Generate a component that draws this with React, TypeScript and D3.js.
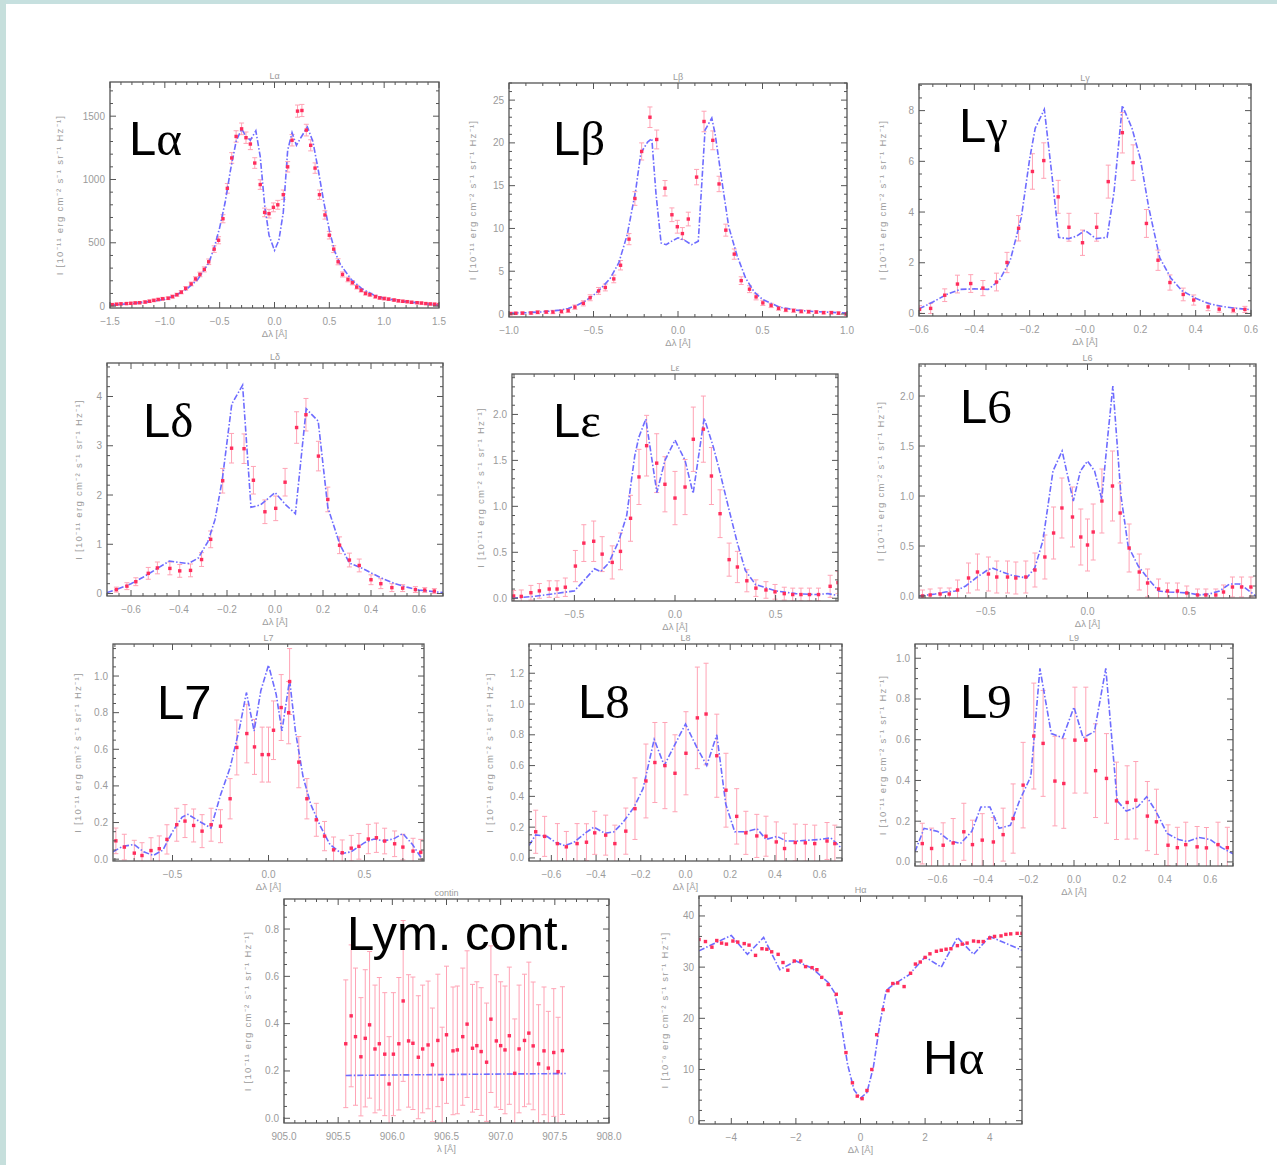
import React from 'react'
import * as d3 from 'd3'

type Obs = [number, number, number][]
type Fit = [number, number][]

// --- observed profiles [Δλ, I, err] and model curves [Δλ, I] ---
const lyaObs: Obs = [[-1.48,12,8],[-1.44,15,8],[-1.40,18,8],[-1.35,20,8],[-1.31,22,8],[-1.27,25,9],[-1.23,27,9],[-1.18,32,9],[-1.14,38,10],[-1.10,45,10],[-1.06,52,10],[-1.02,58,11],[-0.97,62,11],[-0.93,75,12],[-0.89,90,12],[-0.85,110,13],[-0.81,140,14],[-0.76,175,15],[-0.72,215,17],[-0.68,250,18],[-0.64,290,20],[-0.60,350,22],[-0.55,450,26],[-0.51,520,28],[-0.47,690,32],[-0.43,930,38],[-0.39,1170,42],[-0.35,1340,45],[-0.30,1400,46],[-0.26,1330,45],[-0.22,1280,44],[-0.18,1130,42],[-0.13,960,38],[-0.09,740,34],[-0.05,730,34],[-0.01,780,35],[0.03,800,35],[0.08,880,37],[0.12,1100,41],[0.16,1310,45],[0.21,1540,48],[0.25,1545,48],[0.29,1390,46],[0.33,1270,44],[0.37,1090,41],[0.41,880,37],[0.46,720,33],[0.50,560,30],[0.54,450,27],[0.58,350,24],[0.62,250,20],[0.67,210,18],[0.71,185,17],[0.75,150,15],[0.79,125,14],[0.83,100,13],[0.87,90,12],[0.92,75,12],[0.96,65,11],[1.00,60,11],[1.04,55,10],[1.09,48,10],[1.13,42,10],[1.17,38,9],[1.21,35,9],[1.25,30,9],[1.30,27,9],[1.34,24,8],[1.38,20,8],[1.42,17,8],[1.46,15,8],[1.50,12,8]]
const lyaFit: Fit = [[-1.5,8],[-1.3,20],[-1.1,40],[-1.0,55],[-0.9,85],[-0.8,135],[-0.7,210],[-0.6,340],[-0.55,460],[-0.5,620],[-0.45,820],[-0.4,1080],[-0.35,1300],[-0.3,1400],[-0.26,1340],[-0.22,1310],[-0.17,1385],[-0.13,1180],[-0.09,800],[-0.05,560],[0,440],[0.04,520],[0.08,740],[0.12,1230],[0.16,1370],[0.2,1270],[0.24,1330],[0.3,1415],[0.35,1300],[0.4,1070],[0.45,820],[0.5,600],[0.55,430],[0.6,330],[0.7,210],[0.8,135],[0.9,90],[1.0,60],[1.2,35],[1.5,8]]

const lybObs: Obs = [[-0.99,0.05,0.15],[-0.96,0.08,0.15],[-0.92,0.1,0.15],[-0.87,0.12,0.15],[-0.83,0.2,0.18],[-0.78,0.23,0.18],[-0.74,0.23,0.2],[-0.69,0.3,0.2],[-0.65,0.4,0.22],[-0.61,0.8,0.25],[-0.56,1.25,0.3],[-0.52,1.9,0.35],[-0.47,2.7,0.4],[-0.43,3.1,0.4],[-0.38,4.1,0.45],[-0.34,5.7,0.55],[-0.29,8.75,0.65],[-0.255,13.5,0.8],[-0.215,19.0,1.0],[-0.166,23.0,1.2],[-0.126,20.4,1.1],[-0.077,14.7,0.9],[-0.036,11.6,0.8],[-0.004,10.2,0.75],[0.026,9.4,0.7],[0.061,11.1,0.8],[0.11,16.0,0.9],[0.154,22.5,1.2],[0.206,20.3,1.1],[0.243,15.2,0.9],[0.283,9.8,0.7],[0.333,7.0,0.6],[0.374,3.9,0.45],[0.423,2.9,0.4],[0.462,2.0,0.35],[0.502,1.3,0.3],[0.551,1.0,0.25],[0.595,0.66,0.22],[0.638,0.47,0.2],[0.684,0.4,0.2],[0.729,0.3,0.18],[0.773,0.27,0.18],[0.818,0.23,0.15],[0.862,0.16,0.15],[0.907,0.16,0.15],[0.95,0.1,0.15],[0.996,0.0,0.15]]
const lybFit: Fit = [[-1,0.1],[-0.9,0.15],[-0.8,0.25],[-0.7,0.45],[-0.65,0.65],[-0.6,1.0],[-0.55,1.5],[-0.5,2.2],[-0.45,3.1],[-0.4,4.2],[-0.35,6.0],[-0.3,9.3],[-0.25,14.5],[-0.22,18.8],[-0.18,20.1],[-0.155,20.5],[-0.13,14],[-0.1,8.3],[-0.07,8.1],[-0.03,8.6],[0,8.9],[0.04,8.6],[0.08,8.1],[0.12,8.5],[0.16,21.5],[0.2,22.9],[0.22,21],[0.26,15.5],[0.3,10.2],[0.35,6.8],[0.4,4.2],[0.45,2.6],[0.5,1.7],[0.6,0.8],[0.7,0.45],[0.8,0.3],[0.9,0.2],[1.0,0.1]]

const lygObs: Obs = [[-0.598,0.16,0.15],[-0.558,0.2,0.2],[-0.507,0.72,0.25],[-0.461,1.16,0.35],[-0.413,1.18,0.35],[-0.369,1.0,0.3],[-0.32,1.24,0.35],[-0.282,2.01,0.4],[-0.24,3.36,0.5],[-0.19,5.6,0.7],[-0.149,6.03,0.7],[-0.097,4.6,0.65],[-0.058,3.4,0.55],[-0.009,2.79,0.5],[0.042,3.4,0.55],[0.084,5.2,0.65],[0.135,7.13,0.8],[0.174,5.95,0.7],[0.222,3.55,0.55],[0.264,2.1,0.4],[0.307,1.22,0.3],[0.355,0.75,0.25],[0.393,0.53,0.2],[0.445,0.26,0.15],[0.485,0.17,0.12],[0.536,0.13,0.1],[0.578,0.16,0.12]]
const lygFit: Fit = [[-0.6,0.18],[-0.55,0.45],[-0.5,0.75],[-0.45,0.95],[-0.4,0.97],[-0.35,0.95],[-0.31,1.3],[-0.27,2.1],[-0.23,3.8],[-0.2,6.1],[-0.18,7.3],[-0.147,8.05],[-0.12,5.5],[-0.095,3.0],[-0.06,2.95],[-0.03,3.05],[0,3.28],[0.04,2.95],[0.08,3.0],[0.105,4.8],[0.135,8.2],[0.17,7.3],[0.2,6.1],[0.23,4.2],[0.27,2.2],[0.31,1.4],[0.35,0.9],[0.4,0.6],[0.45,0.38],[0.5,0.27],[0.55,0.2],[0.6,0.15]]

const lydObs: Obs = [[-0.661,0.08,0.05],[-0.617,0.15,0.07],[-0.58,0.24,0.08],[-0.528,0.41,0.12],[-0.49,0.52,0.12],[-0.438,0.51,0.13],[-0.397,0.46,0.13],[-0.352,0.47,0.13],[-0.306,0.69,0.14],[-0.268,1.1,0.17],[-0.218,2.29,0.25],[-0.181,2.95,0.3],[-0.129,2.94,0.3],[-0.09,2.3,0.28],[-0.042,1.66,0.24],[0.003,1.73,0.25],[0.042,2.26,0.28],[0.09,3.37,0.32],[0.129,3.63,0.33],[0.181,2.79,0.3],[0.22,1.91,0.25],[0.269,0.98,0.17],[0.31,0.68,0.14],[0.351,0.57,0.13],[0.40,0.28,0.1],[0.441,0.2,0.1],[0.487,0.12,0.08],[0.532,0.11,0.07],[0.585,0.08,0.06],[0.624,0.07,0.05],[0.664,0.05,0.05]]
const lydFit: Fit = [[-0.7,0.02],[-0.65,0.1],[-0.6,0.2],[-0.55,0.33],[-0.5,0.48],[-0.44,0.66],[-0.4,0.63],[-0.36,0.61],[-0.32,0.72],[-0.28,1.05],[-0.25,1.5],[-0.22,2.3],[-0.18,3.85],[-0.135,4.23],[-0.1,1.75],[-0.06,1.8],[0,2.05],[0.045,1.8],[0.085,1.62],[0.13,3.75],[0.18,3.5],[0.22,1.75],[0.27,1.0],[0.31,0.62],[0.36,0.52],[0.4,0.42],[0.45,0.3],[0.5,0.2],[0.55,0.13],[0.6,0.07],[0.7,0.02]]

const lyeObs: Obs = [[-0.802,0.025,0.06],[-0.764,0.02,0.07],[-0.716,0.06,0.08],[-0.674,0.08,0.08],[-0.625,0.1,0.09],[-0.586,0.1,0.09],[-0.545,0.12,0.1],[-0.495,0.35,0.17],[-0.453,0.6,0.2],[-0.404,0.62,0.22],[-0.362,0.48,0.19],[-0.312,0.39,0.18],[-0.271,0.51,0.2],[-0.221,0.87,0.25],[-0.179,1.32,0.3],[-0.141,1.66,0.33],[-0.091,1.47,0.32],[-0.05,1.24,0.3],[0,1.09,0.29],[0.05,1.21,0.3],[0.091,1.73,0.35],[0.141,1.84,0.36],[0.181,1.33,0.31],[0.224,0.92,0.26],[0.269,0.42,0.18],[0.31,0.34,0.17],[0.357,0.19,0.12],[0.402,0.11,0.09],[0.452,0.09,0.09],[0.497,0.07,0.08],[0.543,0.05,0.07],[0.585,0.04,0.07],[0.626,0.04,0.07],[0.668,0.04,0.07],[0.713,0.04,0.07],[0.771,0.13,0.12],[0.81,0.17,0.12]]
const lyeFit: Fit = [[-0.81,0.0],[-0.7,0.02],[-0.6,0.05],[-0.5,0.08],[-0.45,0.2],[-0.4,0.32],[-0.37,0.29],[-0.33,0.38],[-0.28,0.62],[-0.24,0.9],[-0.2,1.55],[-0.18,1.75],[-0.145,1.95],[-0.09,1.15],[-0.05,1.5],[0,1.72],[0.05,1.5],[0.09,1.14],[0.145,1.96],[0.19,1.65],[0.22,1.4],[0.27,0.95],[0.31,0.6],[0.35,0.3],[0.4,0.15],[0.5,0.08],[0.6,0.05],[0.7,0.04],[0.76,0.05],[0.81,0.03]]

const ly6Obs: Obs = [[-0.813,0.0,0.06],[-0.775,0.01,0.06],[-0.726,0.02,0.06],[-0.681,0.02,0.06],[-0.64,0.06,0.1],[-0.586,0.18,0.15],[-0.542,0.24,0.18],[-0.488,0.22,0.17],[-0.447,0.19,0.16],[-0.394,0.19,0.16],[-0.353,0.18,0.16],[-0.304,0.19,0.16],[-0.259,0.26,0.17],[-0.21,0.39,0.22],[-0.167,0.63,0.26],[-0.126,0.88,0.3],[-0.074,0.79,0.3],[-0.033,0.59,0.28],[0,0.51,0.26],[0.028,0.64,0.28],[0.071,0.95,0.32],[0.123,1.1,0.35],[0.161,0.83,0.3],[0.205,0.48,0.24],[0.255,0.24,0.18],[0.296,0.13,0.14],[0.35,0.07,0.1],[0.394,0.05,0.08],[0.443,0.05,0.08],[0.489,0.03,0.07],[0.542,0.01,0.06],[0.583,0.01,0.06],[0.632,0.01,0.06],[0.67,0.04,0.07],[0.714,0.09,0.1],[0.759,0.09,0.1],[0.805,0.09,0.1]]
const ly6Fit: Fit = [[-0.83,0.0],[-0.75,0.02],[-0.7,0.04],[-0.65,0.05],[-0.6,0.1],[-0.55,0.18],[-0.5,0.25],[-0.47,0.28],[-0.42,0.24],[-0.38,0.21],[-0.3,0.18],[-0.26,0.28],[-0.22,0.55],[-0.17,1.25],[-0.125,1.45],[-0.07,0.95],[-0.035,1.25],[0,1.35],[0.035,1.25],[0.07,0.97],[0.1,1.6],[0.125,2.1],[0.165,1.0],[0.2,0.5],[0.25,0.3],[0.3,0.17],[0.35,0.05],[0.4,0.04],[0.5,0.03],[0.55,0.01],[0.6,0.02],[0.65,0.05],[0.7,0.12],[0.75,0.12],[0.83,0.0]]

const ly7Obs: Obs = [[-0.795,0.1,0.07],[-0.751,0.066,0.07],[-0.699,0.033,0.07],[-0.659,0.02,0.07],[-0.612,0.047,0.07],[-0.569,0.057,0.07],[-0.529,0.108,0.08],[-0.478,0.188,0.09],[-0.435,0.208,0.09],[-0.39,0.184,0.09],[-0.346,0.153,0.09],[-0.299,0.188,0.09],[-0.25,0.18,0.09],[-0.2,0.33,0.11],[-0.165,0.61,0.15],[-0.113,0.686,0.16],[-0.073,0.613,0.15],[-0.033,0.571,0.15],[0,0.571,0.15],[0.026,0.704,0.16],[0.066,0.828,0.18],[0.105,0.8,0.17],[0.11,0.97,0.18],[0.158,0.53,0.14],[0.2,0.33,0.11],[0.249,0.215,0.09],[0.292,0.126,0.08],[0.339,0.051,0.07],[0.384,0.035,0.07],[0.431,0.06,0.07],[0.471,0.07,0.07],[0.52,0.11,0.08],[0.562,0.117,0.08],[0.605,0.099,0.07],[0.657,0.084,0.07],[0.7,0.066,0.07],[0.753,0.044,0.07],[0.793,0.038,0.07]]
const ly7Fit: Fit = [[-0.81,0.04],[-0.76,0.07],[-0.7,0.08],[-0.65,0.04],[-0.6,0.02],[-0.55,0.05],[-0.5,0.15],[-0.45,0.23],[-0.42,0.245],[-0.35,0.2],[-0.3,0.17],[-0.25,0.35],[-0.2,0.5],[-0.15,0.72],[-0.115,0.91],[-0.075,0.7],[-0.04,0.92],[0,1.06],[0.04,0.9],[0.07,0.7],[0.11,0.98],[0.14,0.7],[0.18,0.45],[0.22,0.3],[0.27,0.18],[0.32,0.08],[0.38,0.03],[0.43,0.04],[0.5,0.09],[0.55,0.11],[0.6,0.1],[0.65,0.11],[0.7,0.14],[0.75,0.08],[0.8,0.0]]

const ly8Obs: Obs = [[-0.67,0.17,0.14],[-0.63,0.14,0.13],[-0.573,0.093,0.13],[-0.533,0.072,0.1],[-0.485,0.093,0.13],[-0.443,0.102,0.12],[-0.406,0.163,0.14],[-0.357,0.148,0.13],[-0.316,0.093,0.12],[-0.267,0.174,0.15],[-0.226,0.32,0.2],[-0.177,0.5,0.24],[-0.137,0.62,0.26],[-0.092,0.6,0.28],[-0.047,0.55,0.25],[0.002,0.68,0.27],[0.053,0.91,0.33],[0.092,0.935,0.33],[0.14,0.664,0.27],[0.181,0.44,0.24],[0.229,0.27,0.18],[0.27,0.163,0.14],[0.319,0.143,0.14],[0.36,0.141,0.13],[0.406,0.104,0.13],[0.443,0.061,0.1],[0.491,0.1,0.12],[0.536,0.098,0.12],[0.578,0.093,0.12],[0.633,0.11,0.12],[0.668,0.093,0.12]]
const ly8Fit: Fit = [[-0.7,0.08],[-0.67,0.15],[-0.62,0.14],[-0.58,0.1],[-0.54,0.08],[-0.5,0.1],[-0.45,0.16],[-0.41,0.2],[-0.36,0.16],[-0.32,0.17],[-0.28,0.23],[-0.23,0.33],[-0.19,0.45],[-0.14,0.77],[-0.095,0.6],[-0.05,0.73],[0,0.87],[0.05,0.72],[0.095,0.6],[0.14,0.8],[0.18,0.35],[0.22,0.17],[0.27,0.17],[0.32,0.19],[0.36,0.12],[0.41,0.14],[0.45,0.11],[0.5,0.11],[0.6,0.12],[0.65,0.13],[0.7,0.06]]

const ly9Obs: Obs = [[-0.668,0.09,0.1],[-0.627,0.066,0.1],[-0.576,0.082,0.11],[-0.532,0.093,0.12],[-0.485,0.148,0.14],[-0.447,0.085,0.12],[-0.404,0.107,0.13],[-0.355,0.098,0.12],[-0.312,0.134,0.13],[-0.268,0.213,0.17],[-0.224,0.377,0.21],[-0.177,0.618,0.26],[-0.136,0.582,0.26],[-0.084,0.397,0.22],[-0.045,0.385,0.22],[0.004,0.598,0.26],[0.052,0.598,0.26],[0.095,0.448,0.23],[0.143,0.41,0.22],[0.187,0.3,0.19],[0.234,0.292,0.18],[0.272,0.303,0.19],[0.323,0.225,0.17],[0.363,0.197,0.16],[0.414,0.082,0.1],[0.455,0.07,0.1],[0.492,0.085,0.11],[0.542,0.074,0.1],[0.583,0.069,0.1],[0.634,0.085,0.11],[0.675,0.07,0.1]]
const ly9Fit: Fit = [[-0.7,0.05],[-0.66,0.165],[-0.6,0.15],[-0.55,0.105],[-0.5,0.09],[-0.45,0.15],[-0.41,0.27],[-0.37,0.27],[-0.33,0.165],[-0.28,0.18],[-0.24,0.3],[-0.19,0.42],[-0.15,0.95],[-0.1,0.63],[-0.05,0.61],[0,0.76],[0.04,0.61],[0.09,0.64],[0.14,0.95],[0.19,0.3],[0.23,0.25],[0.28,0.27],[0.32,0.32],[0.36,0.25],[0.41,0.14],[0.46,0.11],[0.5,0.1],[0.55,0.12],[0.6,0.11],[0.65,0.07],[0.7,0.04]]

const lymObs: Obs = [[905.57,0.315,0.27],[905.62,0.433,0.3],[905.66,0.345,0.29],[905.71,0.26,0.25],[905.75,0.338,0.29],[905.79,0.395,0.31],[905.84,0.293,0.27],[905.88,0.315,0.28],[905.93,0.271,0.26],[905.97,0.145,0.2],[906.01,0.271,0.26],[906.06,0.315,0.28],[906.1,0.496,0.34],[906.15,0.327,0.28],[906.19,0.317,0.28],[906.24,0.258,0.26],[906.28,0.293,0.27],[906.33,0.31,0.27],[906.37,0.226,0.24],[906.42,0.329,0.28],[906.46,0.165,0.22],[906.5,0.353,0.29],[906.56,0.285,0.27],[906.6,0.289,0.27],[906.65,0.345,0.29],[906.69,0.398,0.31],[906.74,0.296,0.27],[906.78,0.307,0.27],[906.82,0.282,0.27],[906.87,0.237,0.25],[906.91,0.419,0.31],[906.96,0.327,0.28],[907.0,0.307,0.27],[907.04,0.289,0.27],[907.08,0.349,0.29],[907.13,0.19,0.23],[907.17,0.293,0.27],[907.22,0.329,0.28],[907.26,0.36,0.3],[907.3,0.306,0.27],[907.35,0.23,0.25],[907.4,0.285,0.27],[907.44,0.212,0.24],[907.49,0.278,0.27],[907.53,0.197,0.23],[907.57,0.286,0.27]]
const lymFit: Fit = [[905.57,0.181],[906.0,0.183],[906.5,0.185],[907.0,0.187],[907.6,0.189]]

const haObs: Obs = [[-5.0,35.4,0],[-4.8,35.0,0],[-4.6,33.9,0],[-4.45,35.2,0],[-4.3,34.7,0],[-4.15,34.5,0],[-3.95,35.1,0],[-3.8,34.9,0],[-3.6,34.6,0],[-3.45,34.3,0],[-3.25,32.3,0],[-3.05,33.6,0],[-2.9,33.5,0],[-2.75,33.0,0],[-2.55,32.5,0],[-2.4,30.9,0],[-2.25,29.4,0],[-2.05,31.2,0],[-1.85,31.2,0],[-1.7,30.1,0],[-1.5,29.9,0],[-1.35,29.5,0],[-1.2,28.0,0],[-1.0,26.6,0],[-0.75,24.7,0],[-0.6,21.0,0],[-0.45,13.3,0],[-0.25,7.4,0],[-0.1,4.8,0],[0.05,4.3,0],[0.2,5.9,0],[0.35,10.0,0],[0.5,16.8,0],[0.7,21.7,0],[0.85,25.4,0],[1.0,26.8,0],[1.15,26.9,0],[1.35,26.2,0],[1.55,28.8,0],[1.7,30.6,0],[1.85,31.0,0],[2.0,31.9,0],[2.15,32.6,0],[2.35,33.1,0],[2.5,33.3,0],[2.65,33.5,0],[2.8,33.6,0],[3.0,34.2,0],[3.15,34.5,0],[3.3,34.7,0],[3.5,35.1,0],[3.65,35.0,0],[3.8,35.0,0],[4.0,35.7,0],[4.15,36.0,0],[4.35,36.1,0],[4.5,36.4,0],[4.65,36.5,0],[4.85,36.6,0],[5.0,36.6,0]]
const haFit: Fit = [[-5,33.2],[-4,36.2],[-3.5,32.5],[-3,35.8],[-2.5,29.5],[-2,31.2],[-1.5,29.8],[-1,27.0],[-0.8,25.0],[-0.6,19],[-0.4,11],[-0.2,6.0],[0,4.4],[0.2,5.5],[0.4,10.5],[0.6,19],[0.8,25.5],[1.0,26.5],[1.5,28.5],[2.0,32.0],[2.5,30.0],[3.0,35.8],[3.5,32.5],[4.0,36.0],[5.0,33.3]]

// --- major tick values ---
const lyaXTicks = [-1.5, -1, -0.5, 0, 0.5, 1, 1.5]
const lyaYTicks = [0, 500, 1000, 1500]
const lybXTicks = [-1, -0.5, 0, 0.5, 1]
const lybYTicks = [0, 5, 10, 15, 20, 25]
const lygXTicks = [-0.6, -0.4, -0.2, 0, 0.2, 0.4, 0.6]
const lygXLabels = ['−0.6', '−0.4', '−0.2', '−0.0', '0.2', '0.4', '0.6']
const lygYTicks = [0, 2, 4, 6, 8]
const lydXTicks = [-0.6, -0.4, -0.2, 0, 0.2, 0.4, 0.6]
const lydYTicks = [0, 1, 2, 3, 4]
const halfXTicks = [-0.5, 0, 0.5]
const lyeYTicks = [0, 0.5, 1, 1.5, 2]
const ly7YTicks = [0, 0.2, 0.4, 0.6, 0.8, 1.0]
const ly8YTicks = [0, 0.2, 0.4, 0.6, 0.8, 1.0, 1.2]
const lymXTicks = [905, 905.5, 906, 906.5, 907, 907.5, 908]
const lymYTicks = [0, 0.2, 0.4, 0.6, 0.8]
const haXTicks = [-4, -2, 0, 2, 4]
const haYTicks = [0, 10, 20, 30, 40]

const unit11 = 'I [10⁻¹¹ erg cm⁻² s⁻¹ sr⁻¹ Hz⁻¹]'
const unit6 = 'I [10⁻⁶ erg cm⁻² s⁻¹ sr⁻¹ Hz⁻¹]'
const dl = 'Δλ [Å]'

const panels = [
  { key: 'la', title: 'Lα', big: ['L', 'α'], bx: 129, by: 155, box: [110, 82, 439, 308], xDom: [-1.5, 1.5], yDom: [-15, 1770], xT: lyaXTicks, yT: lyaYTicks, xm: 0.1, ym: 100, xf: '.1f', yf: 'd', yl: unit11, ylx: 63, xl: dl, obs: lyaObs, fit: lyaFit },
  { key: 'lb', title: 'Lβ', big: ['L', 'β'], bx: 553, by: 155, box: [509, 83, 847, 317], xDom: [-1, 1], yDom: [-0.35, 27], xT: lybXTicks, yT: lybYTicks, xm: 0.1, ym: 1, xf: '.1f', yf: 'd', yl: unit11, ylx: 476, xl: dl, obs: lybObs, fit: lybFit },
  { key: 'lg', title: 'Lγ', big: ['L', 'γ'], bx: 959, by: 142, box: [919, 84, 1251, 316], xDom: [-0.6, 0.6], yDom: [-0.1, 9.05], xT: lygXTicks, xLabels: lygXLabels, yT: lygYTicks, xm: 0.05, ym: 0.5, xf: '.1f', yf: 'd', yl: unit11, ylx: 886, xl: dl, obs: lygObs, fit: lygFit },
  { key: 'ld', title: 'Lδ', big: ['L', 'δ'], bx: 143, by: 437, box: [107, 363, 443, 596], xDom: [-0.7, 0.7], yDom: [-0.05, 4.68], xT: lydXTicks, yT: lydYTicks, xm: 0.05, ym: 0.2, xf: '.1f', yf: 'd', yl: unit11, ylx: 82, xl: dl, obs: lydObs, fit: lydFit },
  { key: 'le', title: 'Lε', big: ['L', 'ε'], bx: 553, by: 437, box: [512, 374, 838, 601], xDom: [-0.81, 0.81], yDom: [-0.03, 2.44], xT: halfXTicks, yT: lyeYTicks, xm: 0.1, ym: 0.1, xf: '.1f', yf: '.1f', yl: unit11, ylx: 484, xl: dl, obs: lyeObs, fit: lyeFit },
  { key: 'l6', title: 'L6', big: ['L', '6'], bx: 960, by: 423, box: [919, 364, 1256, 598], xDom: [-0.83, 0.83], yDom: [-0.02, 2.32], xT: halfXTicks, yT: lyeYTicks, xm: 0.1, ym: 0.1, xf: '.1f', yf: '.1f', yl: unit11, ylx: 884, xl: dl, obs: ly6Obs, fit: ly6Fit },
  { key: 'l7', title: 'L7', big: ['L', '7'], bx: 157, by: 719, box: [113, 644, 424, 861], xDom: [-0.81, 0.81], yDom: [-0.01, 1.175], xT: halfXTicks, yT: ly7YTicks, xm: 0.1, ym: 0.05, xf: '.1f', yf: '.1f', yl: unit11, ylx: 81, xl: dl, obs: ly7Obs, fit: ly7Fit },
  { key: 'l8', title: 'L8', big: ['L', '8'], bx: 578, by: 718, box: [529, 644, 842, 861], xDom: [-0.7, 0.7], yDom: [-0.02, 1.39], xT: lydXTicks, yT: ly8YTicks, xm: 0.05, ym: 0.05, xf: '.1f', yf: '.1f', yl: unit11, ylx: 493, xl: dl, obs: ly8Obs, fit: ly8Fit },
  { key: 'l9', title: 'L9', big: ['L', '9'], bx: 960, by: 718, box: [915, 644, 1233, 866], xDom: [-0.7, 0.7], yDom: [-0.02, 1.07], xT: lydXTicks, yT: ly7YTicks, xm: 0.05, ym: 0.05, xf: '.1f', yf: '.1f', yl: unit11, ylx: 886, xl: dl, obs: ly9Obs, fit: ly9Fit },
  { key: 'lc', title: 'contin', big: ['Lym. cont.', ''], bx: 347, by: 950, box: [284, 899, 609, 1123], xDom: [905, 908], yDom: [-0.02, 0.927], xT: lymXTicks, yT: lymYTicks, xm: 0.1, ym: 0.05, xf: '.1f', yf: '.1f', yl: unit11, ylx: 251, xl: 'λ [Å]', obs: lymObs, fit: lymFit },
  { key: 'ha', title: 'Hα', big: ['H', 'α'], bx: 923, by: 1074, box: [699, 896, 1022, 1124], xDom: [-5, 5], yDom: [-0.65, 43.9], xT: haXTicks, yT: haYTicks, xm: 0.5, ym: 2, xf: 'd', yf: 'd', yl: unit6, ylx: 668, xl: dl, obs: haObs, fit: haFit },
]

const RED = '#ff2d5c'
const PINK = '#ffa3b5'
const BLUE = '#6e6cff'
const FRAME = '#555'
const GREY = '#9b9b9b'
const SANS = '"Liberation Sans", Arial, sans-serif'
const SERIF = '"Liberation Serif", "Times New Roman", serif'

function stepTicks(dom: number[], step: number) {
  const a = Math.ceil(dom[0] / step - 1e-6)
  const b = Math.floor(dom[1] / step + 1e-6)
  return d3.range(a, b + 1).map(i => i * step)
}

function Panel({ p }: { p: any }) {
  const [x0, y0, x1, y1] = p.box
  const x = d3.scaleLinear().domain(p.xDom).range([x0, x1])
  const y = d3.scaleLinear().domain(p.yDom).range([y1, y0])
  const line = d3.line<[number, number]>().x(d => x(d[0])).y(d => y(d[1]))
  const fx = d3.format(p.xf)
  const fy = d3.format(p.yf)
  const clip = 'clip-' + p.key
  const minX = stepTicks(p.xDom, p.xm)
  const minY = stepTicks(p.yDom, p.ym)
  const cy = (y0 + y1) / 2

  return (
    <g>
      <defs>
        <clipPath id={clip}>
          <rect x={x0} y={y0} width={x1 - x0} height={y1 - y0} />
        </clipPath>
      </defs>
      <g clipPath={`url(#${clip})`}>
        {p.obs.filter((d: number[]) => d[2] > 0).map((d: number[], i: number) => (
          <g key={'e' + i} stroke={PINK} strokeWidth={1}>
            <line x1={x(d[0])} x2={x(d[0])} y1={y(d[1] - d[2])} y2={y(d[1] + d[2])} />
            <line x1={x(d[0]) - 2.5} x2={x(d[0]) + 2.5} y1={y(d[1] - d[2])} y2={y(d[1] - d[2])} />
            <line x1={x(d[0]) - 2.5} x2={x(d[0]) + 2.5} y1={y(d[1] + d[2])} y2={y(d[1] + d[2])} />
          </g>
        ))}
        <path d={line(p.fit) || ''} fill="none" stroke={BLUE} strokeWidth={1.6} strokeDasharray="6,2,1.5,2" />
        {p.obs.map((d: number[], i: number) => (
          <rect key={'p' + i} x={x(d[0]) - 1.7} y={y(d[1]) - 1.7} width={3.4} height={3.4} fill={RED} />
        ))}
      </g>
      <rect x={x0} y={y0} width={x1 - x0} height={y1 - y0} fill="none" stroke={FRAME} strokeWidth={1.3} />
      <g stroke={FRAME} strokeWidth={1}>
        {minX.map((v, i) => {
          const len = p.xT.some((t: number) => Math.abs(t - v) < 1e-6) ? 6 : 3
          return (
            <g key={'mx' + i}>
              <line x1={x(v)} x2={x(v)} y1={y1} y2={y1 - len} />
              <line x1={x(v)} x2={x(v)} y1={y0} y2={y0 + len} />
            </g>
          )
        })}
        {minY.map((v, i) => {
          const len = p.yT.some((t: number) => Math.abs(t - v) < 1e-6) ? 6 : 3
          return (
            <g key={'my' + i}>
              <line x1={x0} x2={x0 + len} y1={y(v)} y2={y(v)} />
              <line x1={x1} x2={x1 - len} y1={y(v)} y2={y(v)} />
            </g>
          )
        })}
      </g>
      <g fill={GREY} fontFamily={SANS} fontSize={10}>
        {p.xT.map((v: number, i: number) => (
          <text key={'xt' + i} x={x(v)} y={y1 + 17} textAnchor="middle">
            {p.xLabels ? p.xLabels[i] : fx(v)}
          </text>
        ))}
        {p.yT.map((v: number, i: number) => (
          <text key={'yt' + i} x={x0 - 5} y={y(v)} dy="0.35em" textAnchor="end">{fy(v)}</text>
        ))}
        <text x={(x0 + x1) / 2} y={y1 + 29} textAnchor="middle" fontSize={9.5}>{p.xl}</text>
        <text x={(x0 + x1) / 2} y={y0 - 3} textAnchor="middle" fontSize={9}>{p.title}</text>
        <text transform={`translate(${p.ylx},${cy}) rotate(-90)`} textAnchor="middle" fontSize={9.5} letterSpacing={1.3}>
          {p.yl}
        </text>
      </g>
      <text x={p.bx} y={p.by} fontSize={49} fill="#000" fontFamily={SANS}>
        {p.big[0]}
        <tspan fontFamily={p.big[1] === '7' ? SANS : SERIF}>{p.big[1]}</tspan>
      </text>
    </g>
  )
}

export default function App() {
  return (
    <svg width={1277} height={1165} style={{ position: 'absolute', left: 0, top: 0, display: 'block', background: '#fff' }}>
      <rect x={0} y={0} width={1277} height={1165} fill="#fff" />
      <rect x={0} y={0} width={1277} height={4} fill="#c6e0df" />
      <rect x={0} y={0} width={6} height={1165} fill="#c6dfdc" />
      {panels.map(p => <Panel key={p.key} p={p} />)}
    </svg>
  )
}
